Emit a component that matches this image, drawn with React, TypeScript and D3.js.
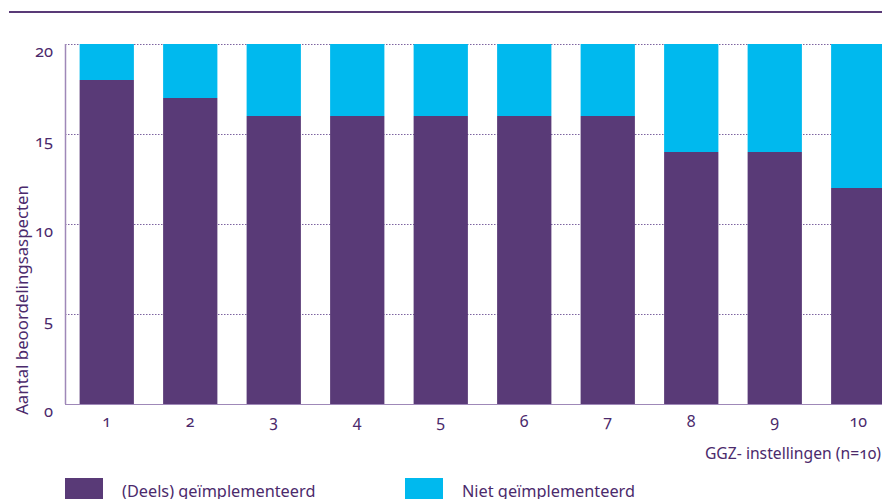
import * as d3 from 'd3';
import React from 'react';

const width = 882;
const height = 499;
const margin = { top: 44, right: -18, bottom: 95, left: 65 };

const instellingen = ['1', '2', '3', '4', '5', '6', '7', '8', '9', '10'];
const deels = [18, 17, 16, 16, 16, 16, 16, 14, 14, 12];
const niet = [2, 3, 4, 4, 4, 4, 4, 6, 6, 8];
const yTicks = [0, 5, 10, 15, 20];
const seriesNames = ['(Deels) geïmplementeerd', 'Niet geïmplementeerd'];

const purple = '#593a77';
const cyan = '#00b9ee';
const textColor = '#4b2a6c';
const font = '"Noto Sans", Lato, sans-serif';

export default function App() {
  const x = d3
    .scaleBand<string>()
    .domain(instellingen)
    .range([margin.left, width - margin.right])
    .paddingInner(0.35)
    .paddingOuter(0.175);

  const y = d3
    .scaleLinear()
    .domain([0, 20])
    .range([height - margin.bottom, margin.top]);

  const rows = instellingen.map((k, i) => ({ k, deels: deels[i], niet: niet[i] }));
  const stacked = d3.stack<any>().keys(['deels', 'niet'])(rows);
  const colors = [purple, cyan];

  return (
    <svg
      width={width}
      height={height}
      style={{ position: 'absolute', left: 0, top: 0, fontFamily: font }}
    >
      <line x1={9} x2={width} y1={12} y2={12} stroke={purple} strokeWidth={2} />

      {/* grid */}
      {yTicks.map(t => (
        <line
          key={t}
          x1={margin.left}
          x2={width}
          y1={y(t) + 0.5}
          y2={y(t) + 0.5}
          stroke={t === 0 ? '#b8a6c8' : '#7d63a0'}
          strokeDasharray="1.5,1.5"
          strokeWidth={1}
        />
      ))}

      {/* bars */}
      {stacked.map((s, si) => (
        <g key={s.key} fill={colors[si]}>
          {s.map((d, i) => (
            <rect
              key={i}
              x={x(instellingen[i])}
              y={y(d[1])}
              width={x.bandwidth()}
              height={y(d[0]) - y(d[1])}
            />
          ))}
        </g>
      ))}

      {/* axes */}
      <line x1={margin.left + 0.5} x2={margin.left + 0.5} y1={y(20)} y2={y(0)} stroke="#9f88b8" strokeWidth={1.5} />
      <line x1={margin.left} x2={width} y1={y(0) + 0.5} y2={y(0) + 0.5} stroke="#9f88b8" strokeWidth={1} />

      {yTicks.map(t => (
        <text
          key={t}
          x={53}
          y={y(t) + 13}
          textAnchor="end"
          fontSize={16.5}
          fill={textColor}
          style={{ fontVariantNumeric: 'oldstyle-nums' }}
        >
          {t}
        </text>
      ))}

      {instellingen.map(k => (
        <text
          key={k}
          x={(x(k) as number) + x.bandwidth() / 2}
          y={427}
          textAnchor="middle"
          fontSize={16}
          fill={textColor}
          style={{ fontVariantNumeric: 'oldstyle-nums' }}
        >
          {k}
        </text>
      ))}

      <text
        transform={`translate(28, ${(y(0) + 190) / 2 + 3}) rotate(-90)`}
        textAnchor="middle"
        fontSize={16.8}
        fill={textColor}
      >
        Aantal beoordelingsaspecten
      </text>

      <text x={881} y={459} textAnchor="end" fontSize={15.7} fill={textColor} style={{ fontVariantNumeric: 'oldstyle-nums' }}>
        GGZ- instellingen (n=10)
      </text>

      {/* legend */}
      {seriesNames.map((n, i) => (
        <g key={n} transform={`translate(${i === 0 ? 65 : 405}, 478)`}>
          <rect width={38} height={21} fill={colors[i]} />
          <text x={57} y={19} fontSize={16.3} fill={textColor}>
            {n}
          </text>
        </g>
      ))}
    </svg>
  );
}
